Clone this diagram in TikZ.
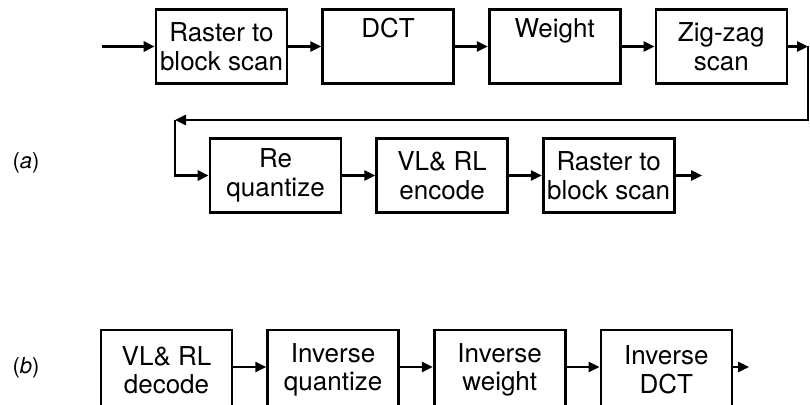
\documentclass[tikz,border=0pt]{standalone}
\usepackage{fontspec}
\setmainfont{TeX Gyre Heros}
\usetikzlibrary{arrows.meta,positioning}

\begin{document}
\begin{tikzpicture}[x=1pt, y=1pt, >={Triangle[length=11pt,width=10pt]}, node distance=33pt,
  blockbox/.style={draw, line width=2.6pt, minimum width=131pt, minimum height=74pt, align=center, inner sep=0pt, font=\fontsize{26}{28.5}\selectfont},
  flow/.style={->, line width=2.6pt},
  partlabel/.style={font=\fontsize{22}{24}\selectfont}]
\useasboundingbox (0,0) rectangle (810,-404);
% (a) coder
\node[blockbox] (rbin) at (221.5,-46.5) {Raster to\\block scan};
\node[blockbox, right=of rbin] (dct) {DCT\\\strut};
\node[blockbox, right=of dct] (wgt) {Weight\\\strut};
\node[blockbox, right=of wgt] (zz) {Zig-zag\\scan};
\node[blockbox] (rq) at (275.5,-175.5) {Re\\quantize};
\node[blockbox, right=of rq] (vle) {VL\& RL\\encode};
\node[blockbox, right=of vle] (rbout) {Raster to\\block scan};
\coordinate (ain) at (102,-46.5);
\coordinate (turn1) at (808,-46.5);
\coordinate (turn2) at (175,-120);
\coordinate (aout) at (702,-175.5);
\draw[flow] (ain) -- (rbin);
\draw[flow] (rbin) -- (dct);
\draw[flow] (dct) -- (wgt);
\draw[flow] (wgt) -- (zz);
\draw[flow] (zz) -- (turn1);
\draw[flow] (turn1) |- (turn2);
\draw[flow] (turn2) |- (rq.west);
\draw[flow] (rq) -- (vle);
\draw[flow] (vle) -- (rbout);
\draw[flow] (rbout) -- (aout);
\node[partlabel] (lbla) at (26,-163) {(\textit{a})};
% (b) decoder
\node[blockbox, minimum height=80pt] (vld) at (166.5,-370) {VL\& RL\\decode};
\node[blockbox, minimum height=80pt, right=of vld] (iq) {Inverse\\quantize};
\node[blockbox, minimum height=80pt, right=of iq] (iw) {Inverse\\weight};
\node[blockbox, minimum height=80pt, right=of iw] (idct) {Inverse\\DCT};
\coordinate (bout) at (749,-367);
\draw[flow] (vld.east |- bout) -- (iq.west |- bout);
\draw[flow] (iq.east |- bout) -- (iw.west |- bout);
\draw[flow] (iw.east |- bout) -- (idct.west |- bout);
\draw[flow] (idct.east |- bout) -- (bout);
\node[partlabel] (lblb) at (26,-368) {(\textit{b})};
\end{tikzpicture}
\end{document}
